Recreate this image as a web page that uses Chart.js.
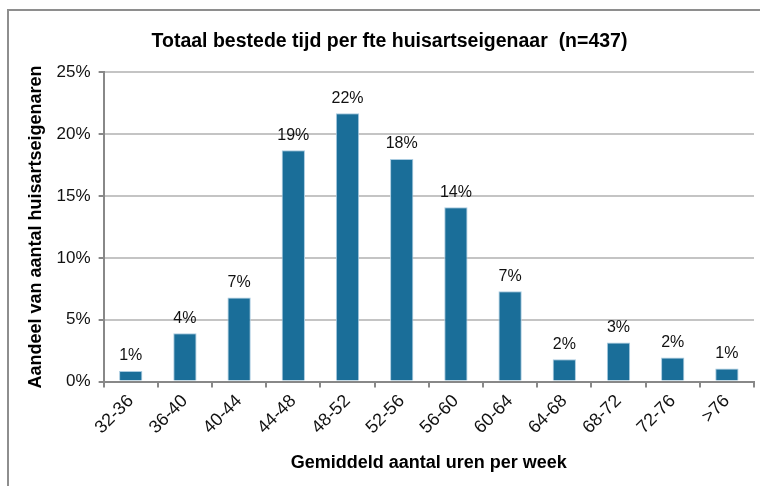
<!DOCTYPE html>
<html>
<head>
<meta charset="utf-8">
<script src="https://cdn.jsdelivr.net/npm/chart.js@4"></script>
<style>
  html, body { margin: 0; padding: 0; background: #fff; overflow: hidden; }
  #wrap { position: relative; width: 760px; height: 486px; overflow: hidden; }
  #frame { position: absolute; left: 7px; top: 9px; width: 820px; height: 520px;
           border-left: 2px solid #8e8e8e; border-top: 2px solid #8e8e8e; pointer-events: none; }
  canvas { position: absolute; left: 0; top: 0; }
</style>
</head>
<body>
<div id="wrap">
  <canvas id="c" width="810" height="486"></canvas>
  <div id="frame"></div>
</div>
<script>
const categories = ['32-36', '36-40', '40-44', '44-48', '48-52', '52-56', '56-60', '60-64', '64-68', '68-72', '72-76', '>76'];
const shares = [0.85, 3.9, 6.8, 18.7, 21.7, 18.0, 14.1, 7.3, 1.8, 3.15, 1.95, 1.05];
const yTicks = [0, 5, 10, 15, 20, 25];

const fontFamily = '"Liberation Sans", Arial, sans-serif';

// labels above the bars
const barLabels = {
  id: 'barLabels',
  afterDatasetsDraw(chart) {
    const ctx = chart.ctx;
    const meta = chart.getDatasetMeta(0);
    ctx.save();
    ctx.font = '16px ' + fontFamily;
    ctx.fillStyle = '#111';
    ctx.textAlign = 'center';
    ctx.textBaseline = 'bottom';
    meta.data.forEach((bar, i) => {
      ctx.fillText(Math.round(shares[i]) + '%', bar.x, bar.y - 7);
    });
    ctx.restore();
  }
};

new Chart(document.getElementById('c'), {
  type: 'bar',
  data: {
    labels: categories,
    datasets: [{
      data: shares,
      backgroundColor: '#1a6e99',
      borderColor: '#a9cbe0',
      borderWidth: 1,
      barPercentage: 0.43,
      categoryPercentage: 1.0
    }]
  },
  options: {
    responsive: false,
    animation: false,
    layout: { padding: { top: 30, left: 25, right: 56, bottom: 12 } },
    plugins: {
      legend: { display: false },
      tooltip: { enabled: false },
      title: {
        display: true,
        text: 'Totaal bestede tijd per fte huisartseigenaar  (n=437)',
        color: '#000',
        font: { family: fontFamily, size: 19.5, weight: 'bold' },
        padding: { top: 0, bottom: 19 }
      }
    },
    scales: {
      x: {
        offset: true,
        grid: { offset: true, drawOnChartArea: false, tickLength: 6, tickColor: '#888', lineWidth: 2 },
        border: { color: '#888', width: 2 },
        ticks: {
          color: '#111', minRotation: 45, maxRotation: 45, autoSkip: false, padding: 3,
          font: { family: fontFamily, size: 18 }
        },
        title: {
          display: true,
          text: 'Gemiddeld aantal uren per week',
          color: '#000',
          font: { family: fontFamily, size: 18, weight: 'bold' },
          padding: { top: 11, bottom: 0 }
        }
      },
      y: {
        min: 0,
        max: 25,
        afterBuildTicks(scale) { scale.ticks = yTicks.map(v => ({ value: v })); },
        grid: { color: '#c4c4c4', lineWidth: 2, tickLength: 5, tickColor: '#888' },
        border: { color: '#888', width: 2 },
        ticks: {
          color: '#111', padding: 8,
          font: { family: fontFamily, size: 17 },
          callback: v => v + '%'
        },
        title: {
          display: true,
          text: 'Aandeel van aantal huisartseigenaren',
          color: '#000',
          font: { family: fontFamily, size: 18, weight: 'bold' },
          padding: { top: 0, bottom: 2 }
        }
      }
    }
  },
  plugins: [barLabels]
});
</script>
</body>
</html>
